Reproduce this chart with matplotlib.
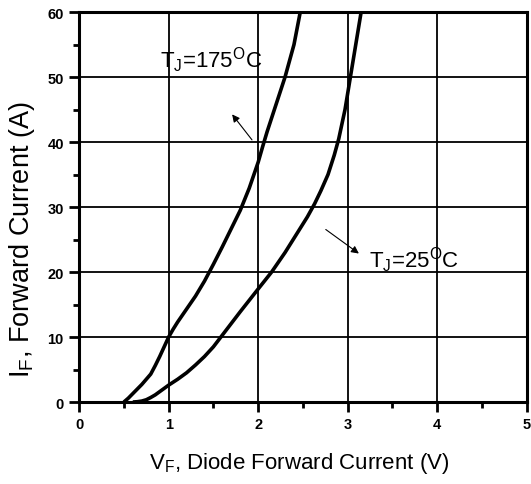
import numpy as np
import matplotlib
matplotlib.use("Agg")
import matplotlib.pyplot as plt

# forward voltage (V) / forward current (A)
vf_175 = [0.50, 0.55, 0.60, 0.65, 0.70, 0.75, 0.80, 0.85, 0.90, 0.95,
          1.00, 1.05, 1.10, 1.20, 1.30, 1.40, 1.50, 1.60, 1.70, 1.80,
          1.90, 2.00, 2.05, 2.10, 2.20, 2.30, 2.40, 2.47]
if_175 = [0.0, 0.6, 1.3, 2.0, 2.7, 3.5, 4.3, 5.6, 7.0, 8.5,
          10.0, 11.2, 12.3, 14.3, 16.3, 18.6, 21.2, 23.9, 26.7, 29.5,
          32.9, 36.9, 39.3, 41.6, 45.8, 50.0, 55.0, 60.0]

vf_25 = [0.60, 0.65, 0.70, 0.75, 0.80, 0.85, 0.90, 0.95, 1.00, 1.10,
         1.20, 1.30, 1.40, 1.50, 1.60, 1.70, 1.80, 1.92, 2.00, 2.15,
         2.30, 2.45, 2.55, 2.63, 2.70, 2.78, 2.85, 2.90, 2.97, 3.03,
         3.09, 3.15]
if_25 = [0.0, 0.05, 0.15, 0.35, 0.7, 1.1, 1.6, 2.1, 2.6, 3.5,
         4.5, 5.7, 7.0, 8.5, 10.3, 12.1, 13.9, 16.0, 17.4, 20.0,
         23.0, 26.3, 28.5, 30.5, 32.5, 35.0, 38.0, 40.5, 45.0, 50.0,
         55.0, 60.0]

x_ticks = [0, 1, 2, 3, 4, 5]
y_ticks = [0, 10, 20, 30, 40, 50, 60]

plt.rcParams['font.family'] = ['Liberation Sans', 'DejaVu Sans']
plt.rcParams['mathtext.fontset'] = 'custom'
plt.rcParams['mathtext.rm'] = 'Liberation Sans'
plt.rcParams['mathtext.it'] = 'Liberation Sans'

fig = plt.figure(figsize=(5.31, 4.85), dpi=100)
ax = fig.add_axes([0.149, 0.169, 0.843, 0.804])

ax.plot(vf_175, if_175, color='black', lw=2.6, solid_capstyle='butt')
ax.plot(vf_25, if_25, color='black', lw=2.6, solid_capstyle='butt')

ax.set_xlim(0, 5)
ax.set_ylim(0, 60)
ax.set_xticks(x_ticks)
ax.set_yticks(y_ticks)
ax.set_xticks(np.arange(0.5, 5, 1.0), minor=True)
ax.set_yticks(np.arange(5, 60, 10), minor=True)
ax.grid(True, which='major', color='black', lw=1.3)
ax.set_axisbelow(True)

for s in ax.spines.values():
    s.set_linewidth(2.2)
ax.tick_params(which='major', direction='out', length=7, width=2, labelsize=10.5, pad=4)
ax.tick_params(which='minor', direction='out', length=4, width=2)
for lab in ax.get_xticklabels() + ax.get_yticklabels():
    lab.set_fontweight('bold')

ax.text(0.905, 51.5, r'T$_\mathrm{J}$=175$^\mathrm{O}$C', fontsize=16)
ax.text(3.24, 20.8, r'T$_\mathrm{J}$=25$^\mathrm{O}$C', fontsize=16)

arrow = dict(arrowstyle='-|>', lw=0.8, color='black', mutation_scale=11)
ax.annotate('', xy=(1.69, 44.6), xytext=(1.95, 40.0), arrowprops=arrow)
ax.annotate('', xy=(3.15, 22.6), xytext=(2.73, 26.8), arrowprops=arrow)

fig.text(0.563, 1 - 464 / 485, r'V$_\mathrm{F}$, Diode Forward Current (V)',
         fontsize=16, ha='center', va='center')
fig.text(22 / 531, 1 - 240 / 485, r'I$_\mathrm{F}$, Forward Current (A)',
         fontsize=19.5, ha='center', va='center', rotation=90)

fig.savefig('out.png', dpi=100)
